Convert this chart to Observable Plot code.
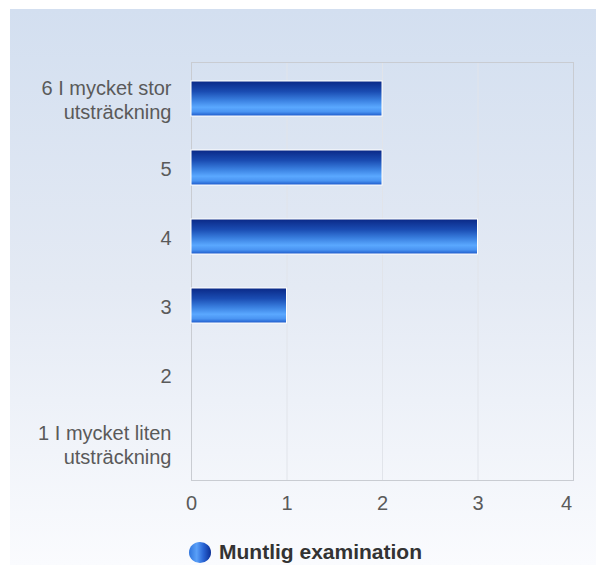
<!DOCTYPE html>
<html>
<head>
<meta charset="utf-8">
<script src="https://cdn.jsdelivr.net/npm/d3@7"></script>
<script src="https://cdn.jsdelivr.net/npm/@observablehq/plot@0.6"></script>
<style>
  html, body { margin: 0; padding: 0; background: #fff; }
  #wrap { position: relative; width: 596px; height: 565px; overflow: hidden; font-family: "Liberation Sans", Arial, sans-serif; }
  #bg { position: absolute; left: 10px; top: 9px; right: 0; bottom: 0;
        background: linear-gradient(to bottom, #d3dff0 0%, #e4eaf4 50%, #fafbfe 100%); }
  #chart { position: absolute; left: 0; top: 0; }
  #legend { position: absolute; left: 189px; top: 540px; height: 24px; display: flex; align-items: center; }
  #legend .dot { width: 22px; height: 21px; border-radius: 50%;
        background: linear-gradient(to right, #2f74dc 0%, #5aa0f8 35%, #2a66d6 65%, #0b2f96 100%); }
  #legend .lab { margin-left: 8px; font-size: 21px; font-weight: bold; color: #333; line-height: 24px; }
</style>
</head>
<body>
<div id="wrap">
  <div id="bg"></div>
  <div id="chart"></div>
  <div id="legend"><div class="dot"></div><div class="lab">Muntlig examination</div></div>
</div>
<script>
const categories = [
  "6 I mycket stor\nutsträckning",
  "5",
  "4",
  "3",
  "2",
  "1 I mycket liten\nutsträckning"
];
const values = [2, 2, 3, 1, 0, 0];
const xTicks = [0, 1, 2, 3, 4];
const seriesName = "Muntlig examination";

const data = categories.map((c, i) => ({category: c, value: values[i]}));
const lastTick = xTicks[xTicks.length - 1];

const plot = Plot.plot({
  width: 596,
  height: 525,
  marginTop: 62,
  marginBottom: 45,
  marginLeft: 191,
  marginRight: 23,
  style: {background: "transparent", fontFamily: "'Liberation Sans', Arial, sans-serif"},
  x: {domain: [0, 4], ticks: xTicks},
  y: {domain: categories, paddingInner: 0.5, paddingOuter: 0.25},
  marks: [
    Plot.gridX(xTicks, {stroke: "#e1e4ea", strokeOpacity: 1}),
    Plot.frame({stroke: "#c9ccd2"}),
    Plot.barX(data.filter(d => d.value > 0), {x: "value", y: "category", fill: "url(#barGrad)", stroke: "#ffffff", strokeWidth: 1}),
    Plot.axisX(xTicks.slice(0, -1), {tickSize: 0, tickPadding: 15, fontSize: 20, fill: "#5a5a5a", label: null}),
    Plot.axisX([lastTick], {tickSize: 0, tickPadding: 15, fontSize: 20, fill: "#5a5a5a", label: null, dx: -7}),
    Plot.axisY({tickSize: 0, tickPadding: 20, fontSize: 20, fill: "#5a5a5a", lineHeight: 1.2, label: null})
  ]
});

const svg = d3.select(plot);
const defs = svg.insert("defs", ":first-child");
const g = defs.append("linearGradient").attr("id", "barGrad").attr("x1", 0).attr("y1", 0).attr("x2", 0).attr("y2", 1);
[[0, "#0a2886"], [0.3, "#1a4cb2"], [0.55, "#3a80e0"], [0.75, "#5aa8ff"], [0.88, "#4a94f2"], [1, "#1a56c8"]]
  .forEach(([o, c]) => g.append("stop").attr("offset", o).attr("stop-color", c));

document.getElementById("chart").appendChild(plot);
</script>
</body>
</html>
